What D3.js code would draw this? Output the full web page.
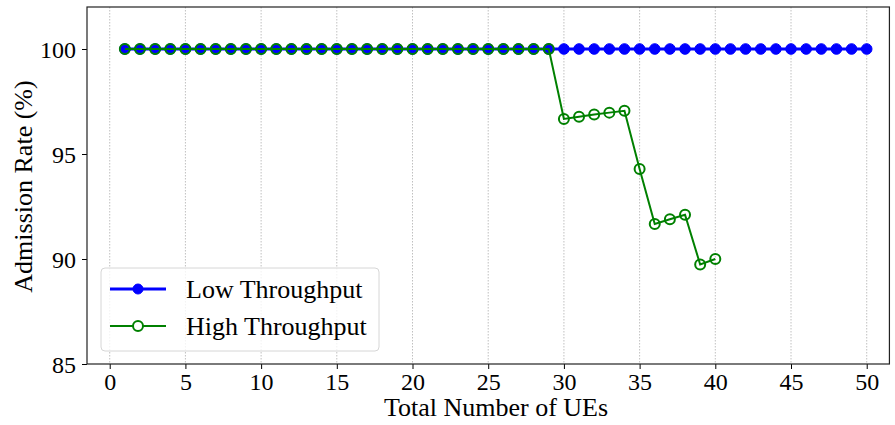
<!DOCTYPE html>
<html>
<head>
<meta charset="utf-8">
<script src="https://cdn.jsdelivr.net/npm/d3@7"></script>
<style>
  html, body { margin: 0; padding: 0; background: #fff; }
  svg { display: block; }
  text { font-family: "Liberation Serif", "Times New Roman", serif; fill: #000; }
</style>
</head>
<body>
<svg id="chart" width="895" height="425"></svg>
<script>
// Number of UEs for each series
const lowUEs = d3.range(1, 51);
const highUEs = d3.range(1, 41);

// Admission rate (%) per UE count
const lowRate = lowUEs.map(() => 100);
const highRate = [
  100, 100, 100, 100, 100, 100, 100, 100, 100, 100,
  100, 100, 100, 100, 100, 100, 100, 100, 100, 100,
  100, 100, 100, 100, 100, 100, 100, 100, 100,
  96.67, 96.77, 96.88, 96.97, 97.06, 94.29, 91.67, 91.89, 92.11, 89.74, 90.0
];

const xTicks = [0, 5, 10, 15, 20, 25, 30, 35, 40, 45, 50];
const yTicks = [85, 90, 95, 100];

const seriesNames = ["Low Throughput", "High Throughput"];
const seriesColors = ["#0000ff", "#008000"];

const tickFont = 24, labelFont = 26;

const svg = d3.select("#chart");
const plotLeft = 87, plotTop = 7, plotBottom = 364;
const x = d3.scaleLinear().domain([-1.5, 51.5]).range([plotLeft, plotLeft + (866.7 - 109.7) / 50 * 53]);
const y = d3.scaleLinear().domain([85, 102]).range([plotBottom, plotTop]);
const plotRight = x.range()[1];

// vertical dotted grid
svg.append("g").selectAll("line").data(xTicks).join("line")
  .attr("x1", d => x(d)).attr("x2", d => x(d))
  .attr("y1", plotTop).attr("y2", plotBottom)
  .attr("stroke", "#b0b0b0").attr("stroke-width", 0.8)
  .attr("stroke-dasharray", "1.5,1.5");

// axes
const xAxis = svg.append("g").attr("transform", `translate(0,${plotBottom})`)
  .call(d3.axisBottom(x).tickValues(xTicks).tickSize(5).tickPadding(5).tickFormat(d3.format("d")));
const yAxis = svg.append("g").attr("transform", `translate(${plotLeft},0)`)
  .call(d3.axisLeft(y).tickValues(yTicks).tickSize(5).tickPadding(6).tickFormat(d3.format("d")));
[xAxis, yAxis].forEach(g => {
  g.select(".domain").remove();
  g.selectAll(".tick line").attr("stroke", "#000").attr("stroke-width", 1);
  g.selectAll(".tick text").attr("font-size", tickFont).style("font-family", "'Liberation Serif', serif");
});
xAxis.selectAll(".tick text").attr("y", 26).attr("dy", 0);
yAxis.selectAll(".tick text").attr("dy", "0.35em");

// frame
svg.append("rect").attr("x", plotLeft).attr("y", plotTop)
  .attr("width", plotRight - plotLeft).attr("height", plotBottom - plotTop)
  .attr("fill", "none").attr("stroke", "#222").attr("stroke-width", 1.2);

// axis titles
svg.append("text").attr("x", 496).attr("y", 416)
  .attr("text-anchor", "middle").attr("font-size", labelFont).text("Total Number of UEs");
svg.append("text")
  .attr("transform", `translate(32,${(plotTop + plotBottom) / 2 + 1}) rotate(-90)`)
  .attr("text-anchor", "middle").attr("font-size", labelFont).text("Admission Rate (%)");

const line = d3.line().x(d => x(d[0])).y(d => y(d[1]));

// Low throughput
const lowData = lowUEs.map((u, i) => [u, lowRate[i]]);
svg.append("path").datum(lowData).attr("d", line)
  .attr("fill", "none").attr("stroke", seriesColors[0]).attr("stroke-width", 3);
svg.append("g").selectAll("circle").data(lowData).join("circle")
  .attr("cx", d => x(d[0])).attr("cy", d => y(d[1])).attr("r", 5.3)
  .attr("fill", seriesColors[0]).attr("stroke", seriesColors[0]).attr("stroke-width", 1);

// High throughput
const highData = highUEs.map((u, i) => [u, highRate[i]]);
svg.append("path").datum(highData).attr("d", line)
  .attr("fill", "none").attr("stroke", seriesColors[1]).attr("stroke-width", 2);
svg.append("g").selectAll("circle").data(highData).join("circle")
  .attr("cx", d => x(d[0])).attr("cy", d => y(d[1])).attr("r", 5)
  .attr("fill", "none").attr("stroke", seriesColors[1]).attr("stroke-width", 2);

// legend
const lg = svg.append("g");
lg.append("rect").attr("x", 101).attr("y", 268).attr("width", 278).attr("height", 83)
  .attr("rx", 4).attr("fill", "#fff").attr("fill-opacity", 0.8)
  .attr("stroke", "#d6d6d6").attr("stroke-width", 1);
const rows = [
  { name: seriesNames[0], color: seriesColors[0], y: 289, filled: true, w: 3 },
  { name: seriesNames[1], color: seriesColors[1], y: 326, filled: false, w: 2 }
];
rows.forEach(r => {
  lg.append("line").attr("x1", 110).attr("x2", 166).attr("y1", r.y).attr("y2", r.y)
    .attr("stroke", r.color).attr("stroke-width", r.w);
  lg.append("circle").attr("cx", 138).attr("cy", r.y).attr("r", 5)
    .attr("fill", r.filled ? r.color : "#fff").attr("stroke", r.color).attr("stroke-width", r.filled ? 1 : 2);
  lg.append("text").attr("x", 186).attr("y", r.y).attr("dy", "0.35em")
    .attr("font-size", labelFont).text(r.name);
});
</script>
</body>
</html>
